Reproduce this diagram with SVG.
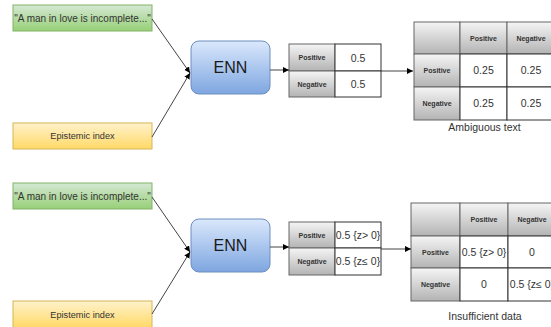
<svg xmlns="http://www.w3.org/2000/svg" width="551" height="327" viewBox="0 0 551 327">
<defs>
<linearGradient id="gGreen" x1="0" y1="0" x2="0" y2="1"><stop offset="0" stop-color="#d5e8d4"/><stop offset="1" stop-color="#97d077"/></linearGradient>
<linearGradient id="gYellow" x1="0" y1="0" x2="0" y2="1"><stop offset="0" stop-color="#fff2cc"/><stop offset="1" stop-color="#ffd966"/></linearGradient>
<linearGradient id="gBlue" x1="0" y1="0" x2="0" y2="1"><stop offset="0" stop-color="#dae8fc"/><stop offset="1" stop-color="#7ea6e0"/></linearGradient>
<linearGradient id="gGray" x1="0" y1="0" x2="0" y2="1"><stop offset="0" stop-color="#f5f5f5"/><stop offset="1" stop-color="#b3b3b3"/></linearGradient>
<marker id="arr" viewBox="0 0 10 10" refX="10" refY="5" markerWidth="6" markerHeight="6" markerUnits="userSpaceOnUse" orient="auto"><path d="M0,0 L10,5 L0,10 z" fill="#000"/></marker>
</defs>
<style>
text{font-family:"Liberation Sans",Arial,sans-serif;text-anchor:middle;}
.green{fill:url(#gGreen);stroke:#82b366;}
.yellow{fill:url(#gYellow);stroke:#d6b656;}
.enn{fill:url(#gBlue);stroke:#6c8ebf;}
.hdr{fill:url(#gGray);stroke:#666;}
.cell{fill:#fff;stroke:#333;}
.conn{stroke:#444;stroke-width:1;fill:none;marker-end:url(#arr);}
.in{font-size:10px;fill:#333;}
.ei{font-size:9.2px;fill:#333;}
.ennt{font-size:16px;fill:#1a1a1a;}
.h{font-size:7px;font-weight:bold;fill:#333;}
.v{font-size:10.5px;fill:#333;}
.cap{font-size:10.5px;fill:#333;}
</style>

<g id="text1"><rect class="green" x="13" y="5" width="139" height="26"/><text class="in" x="82.5" y="21.5">"A man in love is incomplete..."</text></g>
<g id="index1"><rect class="yellow" x="13" y="123" width="139" height="26"/><text class="ei" x="82.5" y="139">Epistemic index</text></g>
<g id="enn1"><rect class="enn" x="191" y="41" width="79" height="53" rx="8"/><text class="ennt" x="230.5" y="73">ENN</text></g>
<g id="out1">
<rect class="hdr" x="289" y="44" width="46" height="27"/><rect class="hdr" x="289" y="71" width="46" height="26"/>
<rect class="cell" x="335" y="44" width="46" height="27"/><rect class="cell" x="335" y="71" width="46" height="26"/>
<text class="h" x="312" y="60">Positive</text><text class="h" x="312" y="87">Negative</text>
<text class="v" x="358" y="61.5">0.5</text><text class="v" x="358" y="88">0.5</text>
</g>
<g id="matrix1">
<rect class="hdr" x="414" y="22" width="46" height="32"/><rect class="hdr" x="460" y="22" width="47" height="32"/><rect class="hdr" x="507" y="22" width="48" height="32"/>
<rect class="hdr" x="414" y="54" width="46" height="33"/><rect class="hdr" x="414" y="87" width="46" height="33"/>
<rect class="cell" x="460" y="54" width="47" height="33"/><rect class="cell" x="507" y="54" width="48" height="33"/>
<rect class="cell" x="460" y="87" width="47" height="33"/><rect class="cell" x="507" y="87" width="48" height="33"/>
<text class="h" x="483.5" y="40.5">Positive</text><text class="h" x="531" y="40.5">Negative</text>
<text class="h" x="437" y="73">Positive</text><text class="h" x="437" y="106">Negative</text>
<text class="v" x="483.5" y="74">0.25</text><text class="v" x="531" y="74">0.25</text>
<text class="v" x="483.5" y="107">0.25</text><text class="v" x="531" y="107">0.25</text>
<text class="cap" x="484.5" y="131">Ambiguous text</text>
</g>

<g id="text2"><rect class="green" x="13" y="183" width="139" height="26"/><text class="in" x="82.5" y="199.5">"A man in love is incomplete..."</text></g>
<g id="index2"><rect class="yellow" x="13" y="301" width="139" height="27"/><text class="ei" x="82.5" y="318">Epistemic index</text></g>
<g id="enn2"><rect class="enn" x="191" y="219" width="79" height="53" rx="8"/><text class="ennt" x="230.5" y="251">ENN</text></g>
<g id="out2">
<rect class="hdr" x="289" y="222" width="46" height="26"/><rect class="hdr" x="289" y="248" width="46" height="27"/>
<rect class="cell" x="335" y="222" width="46" height="26"/><rect class="cell" x="335" y="248" width="46" height="27"/>
<text class="h" x="312" y="238">Positive</text><text class="h" x="312" y="264">Negative</text>
<text class="v" x="358" y="239">0.5 {z&gt; 0}</text><text class="v" x="358" y="265">0.5 {z≤ 0}</text>
</g>
<g id="matrix2">
<rect class="hdr" x="411" y="203" width="49" height="33"/><rect class="hdr" x="460" y="203" width="48" height="33"/><rect class="hdr" x="508" y="203" width="48" height="33"/>
<rect class="hdr" x="411" y="236" width="49" height="32"/><rect class="hdr" x="411" y="268" width="49" height="33"/>
<rect class="cell" x="460" y="236" width="48" height="32"/><rect class="cell" x="508" y="236" width="48" height="32"/>
<rect class="cell" x="460" y="268" width="48" height="33"/><rect class="cell" x="508" y="268" width="48" height="33"/>
<text class="h" x="484" y="222">Positive</text><text class="h" x="532" y="222">Negative</text>
<text class="h" x="435.5" y="254.5">Positive</text><text class="h" x="435.5" y="287">Negative</text>
<text class="v" x="484" y="256">0.5 {z&gt; 0}</text><text class="v" x="532" y="256">0</text>
<text class="v" x="484" y="288">0</text><text class="v" x="532" y="288">0.5 {z≤ 0}</text>
<text class="cap" x="485" y="320">Insufficient data</text>
</g>

<g id="connectors">
<path class="conn" d="M152,19 L190,73"/>
<path class="conn" d="M152,137 L190,73"/>
<path class="conn" d="M270,70 L289,70"/>
<path class="conn" d="M381,71 L413,71"/>
<path class="conn" d="M152,197 L190,252"/>
<path class="conn" d="M152,314 L190,252"/>
<path class="conn" d="M270,247 L289,247"/>
<path class="conn" d="M381,249 L411,249"/>
</g>
</svg>
